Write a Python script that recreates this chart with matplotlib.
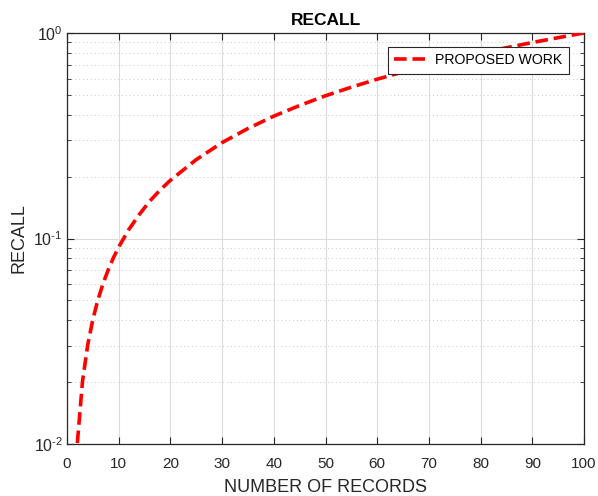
import matplotlib
matplotlib.use("Agg")
import matplotlib.pyplot as plt
from matplotlib.ticker import LogLocator, NullFormatter

plt.rcParams['font.family'] = ['Liberation Sans', 'DejaVu Sans']
plt.rcParams['mathtext.fontset'] = 'custom'
plt.rcParams['mathtext.rm'] = 'Liberation Sans'
plt.rcParams['mathtext.it'] = 'Liberation Sans'

records = [2, 3, 4, 5, 6, 7, 8, 9, 10, 12, 14, 16, 18, 20, 25, 30, 35, 40, 45,
           50, 55, 60, 65, 70, 75, 80, 85, 90, 95, 100]
recall = [0.0101, 0.0202, 0.0303, 0.0404, 0.0505, 0.0606, 0.0707, 0.0808, 0.0909,
          0.111, 0.131, 0.152, 0.172, 0.192, 0.242, 0.293, 0.343, 0.394, 0.444,
          0.495, 0.545, 0.596, 0.646, 0.697, 0.747, 0.798, 0.848, 0.899, 0.949, 1.0]
xticks = [0, 10, 20, 30, 40, 50, 60, 70, 80, 90, 100]
yticks = [0.01, 0.1, 1]
ytick_labels = [r'$10^{\text{-}2}$', r'$10^{\text{-}1}$', r'$10^{0}$']

fig = plt.figure(figsize=(5.98, 4.96), dpi=100)
ax = fig.add_axes([67/598, 1-444/496, (584-67)/598, (444-33)/496])

ax.plot(records, recall, color='#ff0000', linestyle=(0, (3.5, 1.6)), linewidth=2.6,
        label='PROPOSED WORK', zorder=3)

ax.set_yscale('log')
ax.set_xlim(0, 100)
ax.set_ylim(0.01, 1)
ax.set_xticks(xticks)
ax.set_xticklabels([str(t) for t in xticks])
ax.set_yticks(yticks)
ax.set_yticklabels(ytick_labels)
ax.yaxis.set_minor_locator(LogLocator(base=10, subs=range(2, 10)))
ax.yaxis.set_minor_formatter(NullFormatter())

ax.tick_params(which='both', direction='in', top=True, right=True,
               colors='#262626', labelcolor='#262626')
ax.tick_params(axis='x', labelsize=11, pad=9)
ax.tick_params(axis='y', labelsize=11.5, pad=3)
ax.tick_params(which='major', length=5, width=0.8)
ax.tick_params(which='minor', length=3, width=0.6)

ax.grid(True, which='major', axis='both', color='#dcdcdc', linestyle='-', linewidth=0.8)
ax.grid(True, which='minor', axis='y', color='#c8c8c8', linestyle=(0, (1, 3)), linewidth=0.7)
ax.set_axisbelow(True)

for s in ax.spines.values():
    s.set_color('#262626')
    s.set_linewidth(0.9)

ax.set_title('RECALL', fontsize=12.5, fontweight='bold', color='black', pad=6)
ax.set_xlabel('NUMBER OF RECORDS', fontsize=13, color='#262626', labelpad=6)
ax.set_ylabel('RECALL', fontsize=13, color='#262626', labelpad=4)

leg = ax.legend(loc='upper right', bbox_to_anchor=(0.971, 0.966), borderaxespad=0,
                fontsize=10.2, fancybox=False, framealpha=1, edgecolor='#262626',
                handlelength=2.2, borderpad=0.45, handletextpad=0.7)
leg.get_frame().set_linewidth(0.8)

fig.savefig('out.png', dpi=100)
